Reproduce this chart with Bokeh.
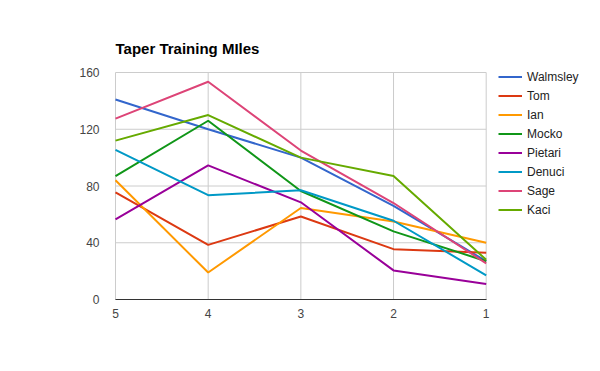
from bokeh.plotting import figure
from bokeh.models import Range1d, FixedTicker, Legend, LegendItem, Label
from bokeh.embed import file_html
from bokeh.resources import INLINE

weeks = [5, 4, 3, 2, 1]
names = ["Walmsley", "Tom", "Ian", "Mocko", "Pietari", "Denuci", "Sage", "Kaci"]
walmsley = [141, 120, 100, 66, 27]
tom = [75.5, 38.5, 58.5, 35.5, 33]
ian = [84, 19, 64.5, 55, 40]
mocko = [87, 126, 76.5, 48, 27]
pietari = [56.5, 94.5, 68.5, 20.5, 11]
denuci = [105.5, 73.5, 77, 55.5, 17]
sage = [127.5, 153.5, 105, 68, 25.5]
kaci = [112, 130, 100, 87, 28]
series = [walmsley, tom, ian, mocko, pietari, denuci, sage, kaci]
colors = ["#3366cc", "#dc3912", "#ff9900", "#109618", "#990099", "#0099c6", "#dd4477", "#66aa00"]
y_ticks = [0, 40, 80, 120, 160]

FONT = "Liberation Sans"
W, H = 600, 371
BL, BB = 40, 40
# plot area in page pixels: x 115..485.7, y 72..299
px_x = (485.7 - 115) / (weeks[0] - weeks[-1])
px_y = (299 - 72) / (y_ticks[-1] - y_ticks[0])
x_start = weeks[0] + (115 - BL) / px_x
x_end = weeks[-1] - (W - 485.7) / px_x
y_end = y_ticks[-1] + 72 / px_y
y_start = y_ticks[0] - (H - BB - 299) / px_y

p = figure(width=W, height=H, output_backend="svg", toolbar_location=None,
           x_range=Range1d(x_start, x_end), y_range=Range1d(y_start, y_end),
           min_border_left=BL, min_border_right=0, min_border_top=0, min_border_bottom=BB)
p.outline_line_color = None
p.background_fill_color = "white"
p.border_fill_color = "white"
p.xgrid.visible = False
p.ygrid.visible = False

# grid lines
p.segment(x0=weeks, x1=weeks, y0=[y_ticks[0]] * len(weeks), y1=[y_ticks[-1]] * len(weeks),
          line_color="#cccccc", line_width=1)
p.segment(x0=[weeks[0]] * len(y_ticks), x1=[weeks[-1]] * len(y_ticks), y0=y_ticks, y1=y_ticks,
          line_color="#cccccc", line_width=1)

p.xaxis.ticker = FixedTicker(ticks=weeks)
p.yaxis.ticker = FixedTicker(ticks=y_ticks)
p.xaxis.fixed_location = y_ticks[0]
p.yaxis.fixed_location = weeks[0]
p.xaxis.bounds = (weeks[-1], weeks[0])
p.yaxis.bounds = (y_ticks[0], y_ticks[-1])

for ax in (p.xaxis, p.yaxis):
    ax.major_tick_line_color = None
    ax.minor_tick_line_color = None
    ax.major_label_text_font = FONT
    ax.major_label_text_font_size = "12px"
    ax.major_label_text_color = "#444444"
p.yaxis.axis_line_color = None
p.yaxis.major_label_standoff = 10
p.xaxis.axis_line_color = "#333333"
p.xaxis.major_label_standoff = 3

items = []
for name, vals, c in zip(names, series, colors):
    r = p.line(weeks, vals, line_color=c, line_width=2)
    items.append(LegendItem(label=name, renderers=[r]))

legend = Legend(items=items, location=(498 - BL, H - BB - 217), padding=0, margin=0,
                border_line_color=None, background_fill_alpha=0,
                glyph_width=24, glyph_height=15, label_height=15, spacing=4,
                label_standoff=5, label_text_font=FONT, label_text_font_size="12px",
                label_text_color="#222222")
p.add_layout(legend)

title = Label(x=115 - BL, y=H - BB - 48, x_units="screen", y_units="screen",
              text="Taper Training MIles", text_font=FONT, text_font_size="15px",
              text_font_style="bold", text_color="#000000", text_baseline="alphabetic")
p.add_layout(title)

open("out.html", "w").write(file_html(p, INLINE))
